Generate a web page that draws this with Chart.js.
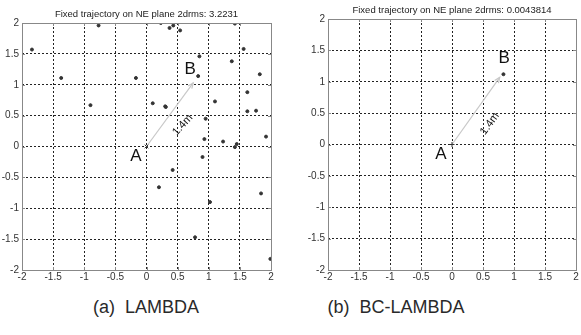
<!DOCTYPE html>
<html>
<head>
<meta charset="utf-8">
<script src="https://cdn.jsdelivr.net/npm/chart.js@4"></script>
<style>
  body { margin: 0; background: #fff; }
  #wrap { position: relative; width: 581px; height: 335px; overflow: hidden; }
  .box { position: absolute; top: 0; }
  .cap { position: absolute; top: 297px; font-family: "Liberation Sans", Arial, sans-serif; font-size: 18px; color: #2a2a2a; white-space: pre; transform: translateX(-50%); }
</style>
</head>
<body>
<div id="wrap">
  <div class="box" style="left:0;width:290px;height:290px"><canvas id="lambdaChart"></canvas></div>
  <div class="box" style="left:290px;width:291px;height:290px"><canvas id="bcChart"></canvas></div>
  <div class="cap" style="left:146px">(a)  LAMBDA</div>
  <div class="cap" style="left:396px">(b)  BC-LAMBDA</div>
</div>
<script>
// tick labels (both axes, both plots)
const tickValues = [-2, -1.5, -1, -0.5, 0, 0.5, 1, 1.5, 2];

// (a) LAMBDA fixed positions, East / North
const lambdaE = [-1.84, -0.77, -1.37, -0.90, -0.17, 0.23, 0.37, 0.43, 0.54, 0.10, 0.30, 0.31,
  0.85, 0.83, 0.95, 0.93, 1.10, 1.23, 1.37, 1.42, 1.42, 1.45, 1.56, 1.62, 1.62, 1.76, 1.82, 1.92,
  0.90, 0.42, 0.20, 1.02, 1.84, 0.78, 1.99];
const lambdaN = [1.57, 1.96, 1.11, 0.67, 1.11, 2.00, 1.92, 1.96, 1.88, 0.70, 0.65, 0.64,
  1.46, 1.14, 0.45, 0.12, 0.73, 0.08, 1.38, 1.99, -0.01, 0.04, 1.58, 0.88, 0.57, 0.58, 1.17, 0.16,
  -0.17, -0.38, -0.66, -0.90, -0.76, -1.47, -1.82];

// (b) BC-LAMBDA fixed position
const bcE = [0.83];
const bcN = [1.12];

// start point A and true displacement arrow (1.4m)
const pointA = { x: 0, y: 0 };
const arrowTipA = { x: 0.75, y: 1.03 };
const arrowTipB = { x: 0.77, y: 1.07 };

const titles = ['Fixed trajectory on NE plane 2drms: 3.2231', 'Fixed trajectory on NE plane 2drms: 0.0043814'];

const font = 'Liberation Sans, Arial, sans-serif';

function toPoints(xs, ys) {
  return xs.map((x, i) => ({ x: x, y: ys[i] }));
}

function makeAxis(fixWidth, fixHeight) {
  return {
    type: 'linear',
    min: -2,
    max: 2,
    afterBuildTicks: axis => { axis.ticks = tickValues.map(v => ({ value: v })); },
    afterFit: axis => {
      if (fixWidth) axis.width = fixWidth;
      if (fixHeight) axis.height = fixHeight;
    },
    ticks: {
      color: '#333',
      font: { family: font, size: 10 },
      padding: fixWidth ? 3 : 1,
      maxRotation: 0,
      autoSkip: false,
      callback: v => String(v)
    },
    grid: { color: '#222', lineWidth: 1, drawTicks: false },
    border: { display: false, dash: [2, 2] }
  };
}

// frame, tick marks, arrow head and annotations
const decor = {
  id: 'decor',
  afterDraw(chart) {
    const o = chart.options.plugins.decor;
    const { ctx, chartArea: a, scales } = chart;
    const xs = scales.x, ys = scales.y;
    ctx.save();
    ctx.strokeStyle = '#888';
    ctx.lineWidth = 1;
    ctx.setLineDash([]);
    ctx.strokeRect(Math.round(a.left) + 0.5, Math.round(a.top) + 0.5, Math.round(a.right - a.left), Math.round(a.bottom - a.top));
    tickValues.forEach(v => {
      const px = Math.round(xs.getPixelForValue(v)) + 0.5;
      const py = Math.round(ys.getPixelForValue(v)) + 0.5;
      ctx.beginPath();
      ctx.moveTo(px, a.bottom); ctx.lineTo(px, a.bottom - 3);
      ctx.moveTo(px, a.top); ctx.lineTo(px, a.top + 3);
      ctx.moveTo(a.left, py); ctx.lineTo(a.left + 3, py);
      ctx.moveTo(a.right, py); ctx.lineTo(a.right - 3, py);
      ctx.stroke();
    });

    // arrow head
    const x0 = xs.getPixelForValue(pointA.x), y0 = ys.getPixelForValue(pointA.y);
    const x1 = xs.getPixelForValue(o.tip.x), y1 = ys.getPixelForValue(o.tip.y);
    const ang = Math.atan2(y1 - y0, x1 - x0);
    ctx.strokeStyle = '#c8c8c8';
    ctx.lineWidth = 1.2;
    ctx.beginPath();
    ctx.moveTo(x1 - 6 * Math.cos(ang - 0.4), y1 - 6 * Math.sin(ang - 0.4));
    ctx.lineTo(x1, y1);
    ctx.lineTo(x1 - 6 * Math.cos(ang + 0.4), y1 - 6 * Math.sin(ang + 0.4));
    ctx.stroke();

    // labels
    ctx.fillStyle = '#111';
    ctx.textAlign = 'center';
    ctx.textBaseline = 'middle';
    ctx.font = '17px ' + font;
    ctx.fillText('A', xs.getPixelForValue(o.aLabel.x), ys.getPixelForValue(o.aLabel.y));
    ctx.fillText('B', xs.getPixelForValue(o.bLabel.x), ys.getPixelForValue(o.bLabel.y));
    ctx.save();
    ctx.translate(xs.getPixelForValue(o.mLabel.x), ys.getPixelForValue(o.mLabel.y));
    ctx.rotate(o.mAngle * Math.PI / 180);
    ctx.font = '11px ' + font;
    ctx.fillText('1.4m', 0, 0);
    ctx.restore();

    // title
    ctx.fillStyle = '#222';
    ctx.font = '9.5px ' + font;
    ctx.fillText(o.title, (a.left + a.right) / 2, a.top - 9);
    ctx.restore();
  }
};

function makeChart(id, pts, tip, opts) {
  return new Chart(document.getElementById(id), {
    type: 'scatter',
    data: {
      datasets: [
        {
          type: 'line',
          data: [pointA, tip],
          borderColor: '#c8c8c8',
          borderWidth: 1.2,
          pointRadius: 0,
          order: 3
        },
        {
          data: pts,
          backgroundColor: '#333',
          borderColor: '#333',
          pointRadius: 1.5,
          order: 1
        },
        {
          data: [pointA],
          pointStyle: opts.aStyle,
          borderColor: '#333',
          backgroundColor: '#333',
          borderWidth: 1,
          pointRadius: 2.5,
          order: 2
        }
      ]
    },
    options: {
      responsive: true,
      maintainAspectRatio: false,
      animation: false,
      layout: { padding: opts.padding },
      plugins: {
        legend: { display: false },
        tooltip: { enabled: false },
        decor: { tip: tip, title: opts.title, aLabel: opts.aLabel, bLabel: opts.bLabel, mLabel: opts.mLabel, mAngle: opts.mAngle }
      },
      scales: {
        x: makeAxis(0, 20),
        y: makeAxis(opts.yWidth, 0)
      }
    },
    plugins: [decor]
  });
}

makeChart('lambdaChart', toPoints(lambdaE, lambdaN), arrowTipA, {
  padding: { top: 23, right: 19, bottom: 0, left: 0 },
  yWidth: 22,
  aStyle: 'crossRot',
  title: titles[0],
  aLabel: { x: -0.17, y: -0.16 },
  bLabel: { x: 0.70, y: 1.25 },
  mLabel: { x: 0.58, y: 0.35 },
  mAngle: -48
});

makeChart('bcChart', toPoints(bcE, bcN), arrowTipB, {
  padding: { top: 19, right: 2, bottom: 0, left: 0 },
  yWidth: 38,
  aStyle: 'cross',
  title: titles[1],
  aLabel: { x: -0.18, y: -0.15 },
  bLabel: { x: 0.84, y: 1.37 },
  mLabel: { x: 0.61, y: 0.33 },
  mAngle: -54
});
</script>
</body>
</html>
